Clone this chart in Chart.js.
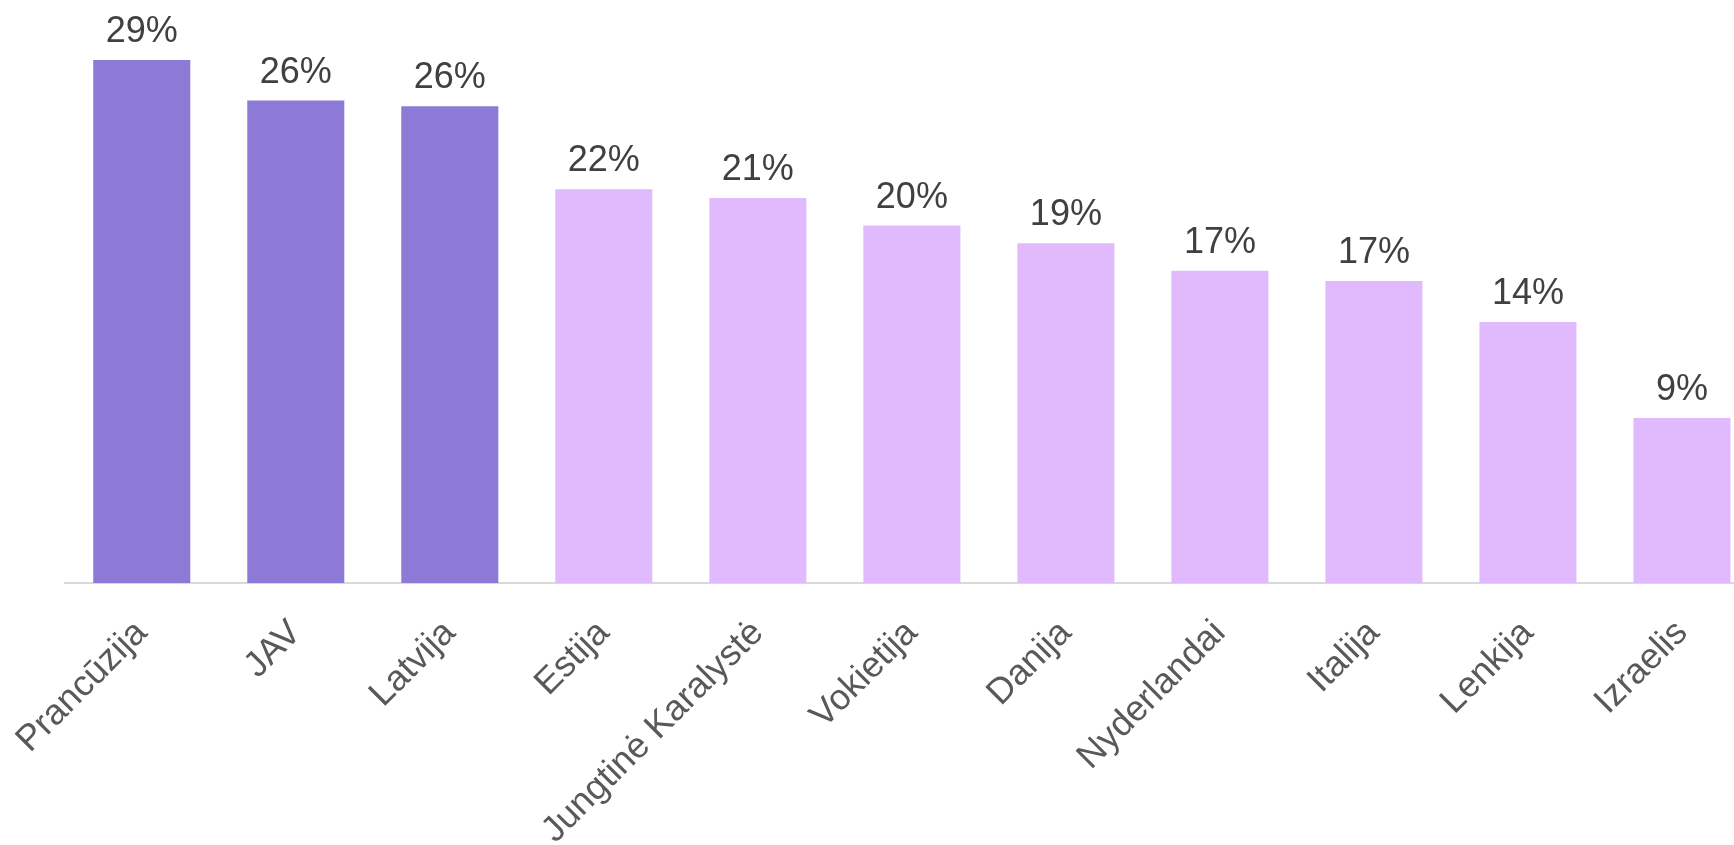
<!DOCTYPE html>
<html>
<head>
<meta charset="utf-8">
<script src="https://cdn.jsdelivr.net/npm/chart.js@4.4.0/dist/chart.umd.min.js"></script>
<style>
  html, body { margin: 0; padding: 0; background: #fff; overflow: hidden; }
  #wrap { width: 1734px; height: 845px; overflow: hidden; position: relative; }
  #myChart { position: absolute; left: -9px; top: 0; }
</style>
</head>
<body>
<div id="wrap"><canvas id="myChart" width="1768" height="845"></canvas></div>
<script>
const labels = ['Prancūzija', 'JAV', 'Latvija', 'Estija', 'Jungtinė Karalystė', 'Vokietija', 'Danija', 'Nyderlandai', 'Italija', 'Lenkija', 'Izraelis'];
const values = [29.0, 26.75, 26.44, 21.84, 21.35, 19.82, 18.84, 17.31, 16.75, 14.48, 9.15];
const pctLabels = ['29%', '26%', '26%', '22%', '21%', '20%', '19%', '17%', '17%', '14%', '9%'];
const highlighted = [true, true, true, false, false, false, false, false, false, false, false];

const darkPurple = '#8c7ad6';
const lightPurple = '#e1bafd';

const chartEl = document.getElementById('myChart');

// draws the percent labels above each bar
const valueLabels = {
    id: 'valueLabels',
    afterDatasetsDraw(chart) {
        const ctx = chart.ctx;
        const meta = chart.getDatasetMeta(0);
        ctx.save();
        ctx.font = '36px "Liberation Sans", Arial, sans-serif';
        ctx.fillStyle = '#404040';
        ctx.textAlign = 'center';
        ctx.textBaseline = 'alphabetic';
        meta.data.forEach((bar, i) => {
            ctx.fillText(pctLabels[i], bar.x, bar.y - 18);
        });
        ctx.restore();
    }
};

const config = {
    type: 'bar',
    data: {
        labels: labels,
        datasets: [
            {
                data: values,
                backgroundColor: highlighted.map(h => h ? darkPurple : lightPurple),
                borderWidth: 0,
                barPercentage: 0.63,
                categoryPercentage: 1.0,
            }
        ]
    },
    options: {
        responsive: false,
        animation: false,
        devicePixelRatio: 1,
        layout: {
            padding: { left: 64, right: 0, top: 42, bottom: 0 }
        },
        plugins: {
            legend: { display: false },
            tooltip: { enabled: false },
        },
        scales: {
            y: {
                display: false,
                min: 0,
                max: 30,
            },
            x: {
                grid: {
                    display: false,
                    drawTicks: false,
                },
                border: {
                    display: true,
                    color: '#d9d9d9',
                    width: 2,
                },
                ticks: {
                    color: '#595959',
                    font: { family: '"Liberation Sans", Arial, sans-serif', size: 36 },
                    minRotation: 45,
                    maxRotation: 45,
                    padding: 29,
                    autoSkip: false,
                },
                afterFit(scale) {
                    scale.height = 262;
                }
            },
        }
    },
    plugins: [valueLabels]
};

const myChart = new Chart(chartEl, config);
</script>
</body>
</html>
